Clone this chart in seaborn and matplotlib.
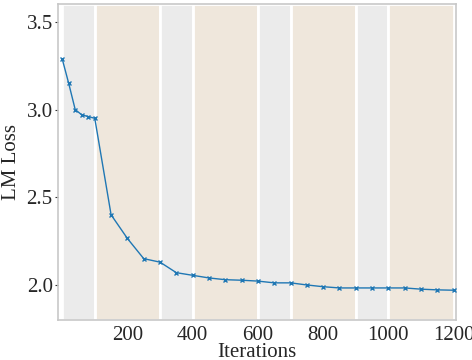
import numpy as np
import pandas as pd
import matplotlib
matplotlib.use("Agg")
import matplotlib.pyplot as plt
import seaborn as sns

# dados
iteracoes = [0, 20, 40, 60, 80, 100, 150, 200, 250, 300, 350, 400, 450, 500, 550,
             600, 650, 700, 750, 800, 850, 900, 950, 1000, 1050, 1100, 1150, 1200]
lm_loss = [3.29, 3.15, 3.00, 2.97, 2.96, 2.95, 2.40, 2.265, 2.15, 2.13, 2.07, 2.055,
           2.04, 2.03, 2.027, 2.022, 2.012, 2.012, 2.0, 1.99, 1.983, 1.983, 1.983,
           1.983, 1.983, 1.976, 1.972, 1.970]

# faixas de fundo (inicio, fim, tipo)
faixa_inicio = [0, 100, 300, 400, 600, 700, 900, 1000]
faixa_fim = [100, 300, 400, 600, 700, 900, 1000, 1200]
faixa_tipo = ["a", "b", "a", "b", "a", "b", "a", "b"]
cores_faixa = {"a": "#ebebeb", "b": "#efe7dc"}

df = pd.DataFrame({"Iterations": iteracoes, "LM Loss": lm_loss})

sns.set_style("white")
plt.rcParams["font.family"] = ["Liberation Serif", "DejaVu Serif"]

fig = plt.figure(figsize=(4.72, 3.6), dpi=100)
ax = fig.add_axes([0.122, 0.111, 0.844, 0.877])

for x0, x1, t in zip(faixa_inicio, faixa_fim, faixa_tipo):
    ax.axvspan(x0, x1, facecolor=cores_faixa[t], edgecolor="white",
               linewidth=2, zorder=0)

sns.lineplot(data=df, x="Iterations", y="LM Loss", ax=ax, color="#1f77b4",
             marker="x", markersize=3.5, markeredgewidth=1.0, linewidth=1,
             markeredgecolor="#1f77b4", zorder=3)

ax.set_xlim(-14, 1207)
ax.set_ylim(1.8, 3.6)
ax.set_xticks([200, 400, 600, 800, 1000, 1200])
ax.set_yticks([2.0, 2.5, 3.0, 3.5])
ax.set_yticklabels(["2.0", "2.5", "3.0", "3.5"])
ax.tick_params(axis="x", length=0, labelsize=15, pad=4)
ax.tick_params(axis="y", length=2.5, width=0.8, labelsize=15, pad=1,
               left=True, color="#333333")
ax.set_xlabel("Iterations", fontsize=15, labelpad=-1)
ax.set_ylabel("LM Loss", fontsize=15, labelpad=4)

for s in ax.spines.values():
    s.set_color("#c8c8c8")
    s.set_linewidth(1.2)

fig.savefig("out.png", dpi=100)
